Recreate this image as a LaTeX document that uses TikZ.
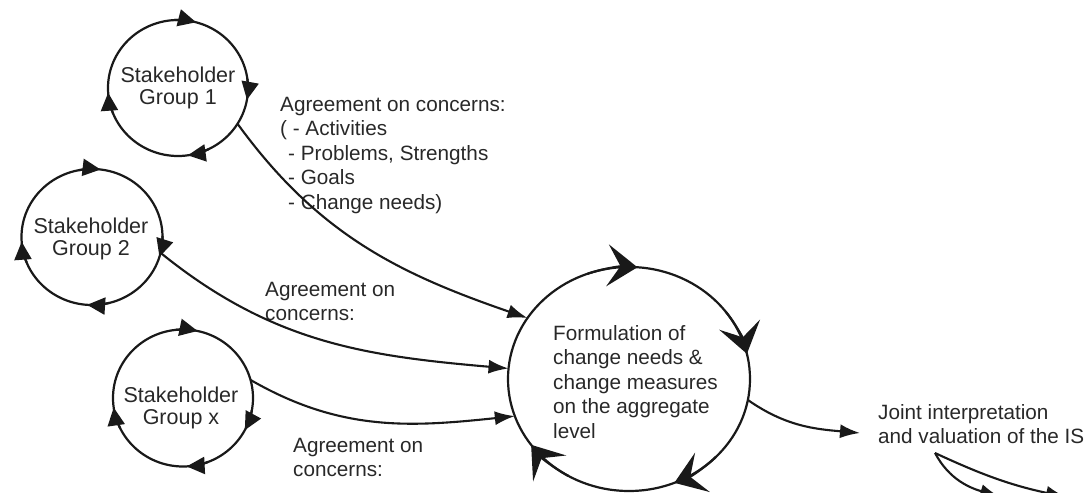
\documentclass[tikz,border=0pt]{standalone}
\usepackage{fontspec}
\setmainfont{Liberation Sans}
\usetikzlibrary{shapes.geometric,arrows.meta}
\definecolor{ink}{RGB}{25,25,25}
\definecolor{txt}{RGB}{40,40,40}
\begin{document}
\begin{tikzpicture}[x=1pt,y=1pt,
  cyc/.style={ellipse,draw=ink,line width=2.2pt,inner sep=0pt,outer sep=0pt},
  lbl/.style={font=\fontsize{20.7}{24.5}\selectfont,text=txt,inner sep=0pt,align=left,anchor=north west},
  sh/.style={font=\fontsize{21.5}{21.5}\selectfont,text=txt,inner sep=0pt,align=center},
  conn/.style={draw=ink,line width=2.1pt,-{Latex[length=20pt,width=14pt]}},
  stip/.style={draw=ink,line width=2.2pt,-{Triangle[length=18pt,width=17pt]}},
  btip/.style={draw=ink,line width=2.2pt,-{Stealth[length=30pt,width=42pt,inset=13pt]}}
]
\useasboundingbox (0,0) rectangle (1088,493);
\clip (0,0) rectangle (1088,493);

% cycles
\node[cyc,minimum width=140pt,minimum height=136pt] (c1) at (178,405) {};
\node[cyc,minimum width=141pt,minimum height=136pt] (c2) at (92,256) {};
\node[cyc,minimum width=140pt,minimum height=137pt] (cx) at (183,95) {};
\node[cyc,minimum width=242pt,minimum height=224pt] (cb) at (629,114) {};

% cycle arrowheads
\foreach \t in {75,-10,-82,184}
  \draw[stip] ([shift={(\t+18:70pt and 68pt)}]c1.center) arc[start angle=\t+18,end angle=\t,x radius=70pt,y radius=68pt];
\foreach \t in {83,-17,-94,184}
  \draw[stip] ([shift={(\t+18:70.5pt and 68pt)}]c2.center) arc[start angle=\t+18,end angle=\t,x radius=70.5pt,y radius=68pt];
\foreach \t in {78,-28,-87,188}
  \draw[stip] ([shift={(\t+18:70pt and 68.5pt)}]cx.center) arc[start angle=\t+18,end angle=\t,x radius=70pt,y radius=68.5pt];
\foreach \t in {86,13,-68,216}
  \draw[btip] ([shift={(\t+24:121pt and 112pt)}]cb.center) arc[start angle=\t+24,end angle=\t,x radius=121pt,y radius=112pt];

% texts
\node[sh] (t1) at (178,405) {Stakeholder\\Group 1};
\node[sh] (t2) at (91,254) {Stakeholder\\Group 2};
\node[sh] (tx) at (181,85) {Stakeholder\\Group x};
\node[lbl] (tb) at (553,168) {Formulation of\\change needs \&\\change measures\\on the aggregate\\level};
\node[lbl] (l1) at (280,396) {Agreement on concerns:\\( - Activities\\\hspace*{8pt}- Problems, Strengths\\\hspace*{8pt}- Goals\\\hspace*{8pt}- Change needs)};
\node[lbl] (l2) at (265,211) {Agreement on\\concerns:};
\node[lbl] (l3) at (293,55) {Agreement on\\concerns:};
\node[lbl] (joint) at (878,89) {Joint interpretation\\and valuation of the IS};

% connectors
\draw[conn] (c1.-31) to[out=-54,in=161] (cb.149);
\draw[conn] (c2.-13) to[out=-39,in=175] (cb.175);
\draw[conn] (cx.15) to[out=-30,in=186] (cb.198);
\coordinate (jin) at ([shift={(-18pt,-29pt)}]joint.north west);
\draw[conn] (cb.-10) to[out=-35,in=175] (jin);
\coordinate (jout) at ([shift={(57pt,-49pt)}]joint.north west);
\coordinate (e1) at (1000,-4);
\coordinate (e2) at (1066,-4);
\draw[conn] (jout) to[out=-62,in=163] (e1);
\draw[conn] (jout) to[out=-25,in=168] (e2);
\end{tikzpicture}
\end{document}
